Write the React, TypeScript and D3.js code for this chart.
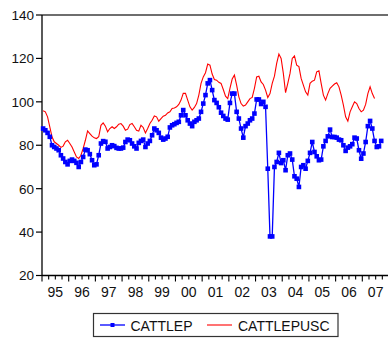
import React from "react";
import * as d3 from "d3";

// Monthly observations, 1995M01 onward
const START_YEAR = 1995;
const YEAR_LABELS = ["95", "96", "97", "98", "99", "00", "01", "02", "03", "04", "05", "06", "07"];
const Y_TICKS = [20, 40, 60, 80, 100, 120, 140];

const CATTLEP = [
  87.7, 86.9, 85.7, 83.9, 80.0, 79.2, 78.5, 77.7, 75.4, 73.9, 72.3, 71.2,
  72.8, 73.4, 72.8, 71.9, 70.0, 72.3, 74.6, 78.0, 77.7, 75.9, 73.1, 70.8,
  71.2, 75.4, 80.8, 81.9, 81.6, 78.5, 79.2, 80.0, 79.6, 78.8, 78.5, 78.5,
  78.9, 81.5, 82.6, 82.3, 80.8, 79.5, 78.5, 81.1, 82.0, 82.6, 79.2, 80.8,
  82.0, 84.6, 87.7, 86.9, 85.7, 83.5, 82.6, 83.1, 83.9, 88.2, 89.2, 89.7,
  90.3, 90.8, 93.8, 96.2, 93.8, 91.5, 90.0, 88.8, 90.8, 91.5, 92.3, 95.4,
  99.2, 103.1, 108.5, 110.0, 105.4, 100.8, 99.5, 97.5, 95.0, 93.5, 92.3, 91.8,
  99.5, 103.8, 103.8, 95.4, 92.3, 87.7, 83.5, 88.8, 90.0, 91.5, 92.3, 94.6,
  101.1, 101.1, 99.0, 100.0, 97.7, 69.2, 38.0, 38.0, 70.0, 72.3, 76.5, 71.8,
  73.1, 68.5, 75.4, 76.2, 73.4, 65.7, 64.6, 60.8, 70.0, 70.8, 69.2, 72.8,
  76.5, 81.5, 76.9, 74.9, 73.1, 73.4, 79.5, 82.0, 84.1, 87.2, 83.8, 83.8,
  83.5, 82.6, 82.3, 80.0, 77.4, 78.9, 79.5, 80.5, 83.5, 83.1, 77.7, 73.8,
  76.2, 81.5, 88.8, 91.2, 87.7, 82.0, 79.2, 79.5, 82.0,
];

const CATTLEPUSC = [
  95.9, 95.4, 93.1, 88.5, 83.9, 81.6, 80.8, 80.0, 79.0, 79.6, 81.6, 82.3,
  80.8, 79.2, 76.9, 74.6, 73.9, 75.4, 78.5, 82.3, 86.6, 85.4, 84.2, 83.4,
  83.1, 83.9, 89.2, 90.3, 88.8, 86.2, 87.7, 88.5, 87.7, 88.5, 89.7, 90.0,
  88.8, 86.9, 87.4, 89.5, 90.0, 88.5, 86.9, 86.5, 89.2, 88.2, 85.7, 87.7,
  90.0, 91.5, 93.5, 93.1, 91.1, 92.3, 93.4, 93.8, 94.9, 95.4, 96.9, 97.2,
  97.7, 98.8, 100.8, 103.9, 103.9, 100.8, 97.7, 96.2, 97.4, 99.2, 103.1, 108.5,
  111.5, 113.4, 117.4, 116.9, 112.8, 110.3, 110.0, 109.0, 108.5, 105.7, 102.6, 101.5,
  106.2, 110.5, 112.3, 107.7, 102.3, 99.2, 98.0, 98.5, 100.0, 101.5, 102.0, 106.2,
  111.5, 111.8, 109.2, 108.0, 105.4, 102.0, 103.8, 108.5, 111.8, 117.7, 122.0, 120.0,
  113.1, 104.2, 108.5, 113.1, 120.0, 121.2, 116.9, 116.2, 110.8, 107.7, 104.6, 103.1,
  108.5, 109.5, 110.0, 113.8, 114.3, 108.5, 103.1, 100.8, 103.8, 106.2, 107.2, 108.2,
  108.8, 106.9, 103.1, 98.5, 93.1, 91.1, 95.4, 97.7, 100.0, 99.2, 96.9, 95.4,
  96.2, 98.8, 103.8, 106.9, 103.8, 101.5,
];

const W = 388;
const H = 339;
const left = 42;
const right = 389;
const top = 15;
const bottom = 275.5;
const FONT = "'Liberation Sans', Arial, sans-serif";

export default function App() {
  const nMonths = YEAR_LABELS.length * 12;
  const x = d3.scaleLinear().domain([0, nMonths]).range([left, right]);
  const y = d3.scaleLinear().domain([20, 140]).range([bottom, top]);

  const line = d3
    .line<number>()
    .x((_, i) => x(i + 0.5))
    .y((d) => y(d));

  const quarterTicks = d3.range(0, nMonths + 1, 3);

  return (
    <svg
      width={W}
      height={H}
      style={{ position: "absolute", left: 0, top: 0, background: "#fff" }}
      fontFamily={FONT}
    >
      {/* top frame line */}
      <line x1={left} x2={W} y1={top} y2={top} stroke="#6e6e6e" strokeWidth={2} />

      {/* y axis */}
      <line x1={left} x2={left} y1={top} y2={bottom} stroke="#000" strokeWidth={1.3} />
      {Y_TICKS.map((t) => (
        <g key={t}>
          <line x1={left - 6} x2={left} y1={y(t)} y2={y(t)} stroke="#000" strokeWidth={1.2} />
          <text x={34} y={y(t)} dy="0.36em" textAnchor="end" fontSize={13.5} fill="#111">
            {t}
          </text>
        </g>
      ))}

      {/* x axis */}
      <line x1={left} x2={W} y1={bottom} y2={bottom} stroke="#000" strokeWidth={1.3} />
      {quarterTicks.map((m) => (
        <line
          key={m}
          x1={x(m)}
          x2={x(m)}
          y1={bottom}
          y2={bottom + (m % 12 === 0 ? 6 : 4)}
          stroke="#000"
          strokeWidth={1.1}
        />
      ))}
      {YEAR_LABELS.map((lab, k) => (
        <text key={lab} x={x(k * 12 + 6)} y={296.5} textAnchor="middle" fontSize={14} fill="#111">
          {lab}
        </text>
      ))}

      {/* series */}
      <path d={line(CATTLEPUSC) ?? ""} fill="none" stroke="#ff0000" strokeWidth={1.1} />
      <path d={line(CATTLEP) ?? ""} fill="none" stroke="#0000ff" strokeWidth={1.3} />
      {CATTLEP.map((v, i) => (
        <rect
          key={i}
          x={x(i + 0.5) - 2.3}
          y={y(v) - 2.3}
          width={4.6}
          height={4.6}
          fill="#0000ff"
        />
      ))}

      {/* legend */}
      <g>
        <rect x={93.5} y={313.5} width={244.5} height={23} fill="#fff" stroke="#333" strokeWidth={1.2} />
        <line x1={100} x2={125} y1={325} y2={325} stroke="#0000ff" strokeWidth={1.3} />
        <rect x={110.5} y={323} width={4} height={4} fill="#0000ff" />
        <text x={130.5} y={330.5} fontSize={14} fill="#111">
          CATTLEP
        </text>
        <line x1={207} x2={232} y1={325} y2={325} stroke="#ff0000" strokeWidth={1.1} />
        <text x={238} y={330.5} fontSize={14} fill="#111">
          CATTLEPUSC
        </text>
      </g>
    </svg>
  );
}
